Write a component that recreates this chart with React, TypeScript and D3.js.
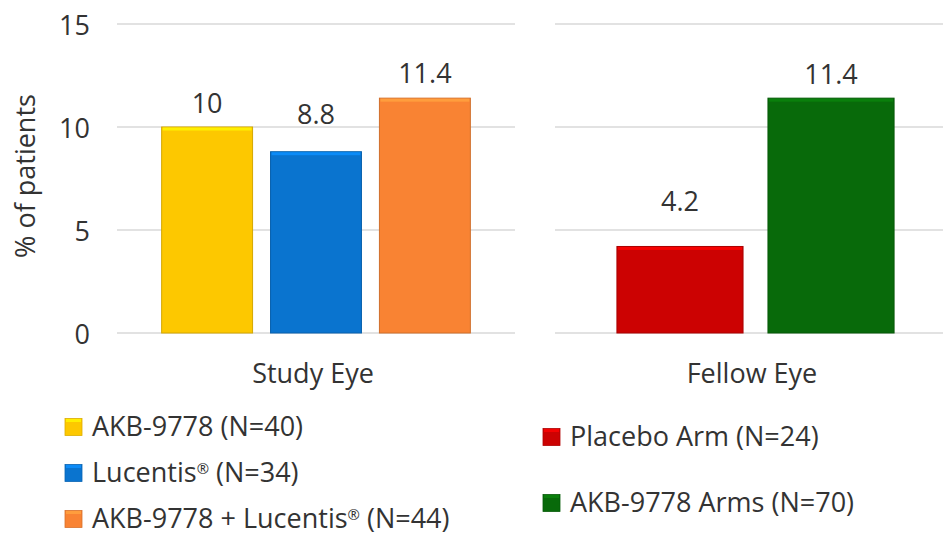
import React from "react";
import * as d3 from "d3";

// Study eye arms
const studyArms = ["AKB-9778 (N=40)", "Lucentis® (N=34)", "AKB-9778 + Lucentis® (N=44)"];
const studyValues = [10, 8.8, 11.4];
const studyColors = ["#FDC800", "#0A74CF", "#F98333"];

// Fellow eye arms
const fellowArms = ["Placebo Arm (N=24)", "AKB-9778 Arms (N=70)"];
const fellowValues = [4.2, 11.4];
const fellowColors = ["#CC0202", "#086A0A"];

const panelLabels = ["Study Eye", "Fellow Eye"];
const yTicks = [0, 5, 10, 15];
const yTitle = "% of patients";

// distance from bar top to value-label baseline
const studyLabelLift = [14, 28, 15];
const fellowLabelLift = [35, 14];

const W = 943;
const H = 537;
const FONT = "'Open Sans', 'Noto Sans', sans-serif";
const TEXT = "#333333";
const FS = 27;
const REG_RISE = 8;

const y = d3.scaleLinear().domain([0, 15]).range([333, 24]);

const studyX = d3
  .scaleBand<number>()
  .domain(d3.range(studyValues.length))
  .range([117, 515])
  .paddingInner(0.165)
  .paddingOuter(0.41);

const fellowX = d3
  .scaleBand<number>()
  .domain(d3.range(fellowValues.length))
  .range([555, 956])
  .paddingInner(0.165)
  .paddingOuter(0.41);

// renders "®" as a small raised mark, restoring the baseline afterwards
function labelWithReg(text: string) {
  const parts = text.split("®");
  const out: React.ReactNode[] = [];
  parts.forEach((p, i) => {
    out.push(
      <tspan key={"p" + i} dy={i > 0 ? REG_RISE : undefined}>
        {p}
      </tspan>
    );
    if (i < parts.length - 1)
      out.push(
        <tspan key={"r" + i} fontSize={FS * 0.55} dy={-REG_RISE}>
          ®
        </tspan>
      );
  });
  return out;
}

function Bars({
  values,
  colors,
  x,
  lifts,
}: {
  values: number[];
  colors: string[];
  x: d3.ScaleBand<number>;
  lifts: number[];
}) {
  return (
    <g>
      {values.map((v, i) => {
        const x0 = x(i)!;
        const bw = x.bandwidth();
        const top = y(v);
        const base = y(0);
        const c = d3.color(colors[i])!;
        return (
          <g key={i}>
            <rect
              x={x0}
              y={top}
              width={bw}
              height={base - top}
              fill={colors[i]}
              stroke={c.darker(0.5).toString()}
              strokeWidth={1}
            />
            <rect x={x0 + 1} y={top + 0.5} width={bw - 2} height={3} fill={c.brighter(0.5).toString()} />
            <text
              x={x0 + bw / 2}
              y={top - lifts[i]}
              textAnchor="middle"
              fontSize={FS}
              fill={TEXT}
              fontFamily={FONT}
            >
              {v}
            </text>
          </g>
        );
      })}
    </g>
  );
}

function Legend({
  names,
  colors,
  x0,
  rows,
}: {
  names: string[];
  colors: string[];
  x0: number;
  rows: number[];
}) {
  return (
    <g>
      {names.map((n, i) => {
        const c = d3.color(colors[i])!;
        return (
          <g key={n} transform={`translate(${x0},${rows[i]})`}>
            <rect x={0} y={-8.5} width={17} height={17} fill={colors[i]} stroke={c.darker(0.4).toString()} strokeWidth={0.8} />
            <rect x={1} y={-8} width={15} height={3} fill={c.brighter(0.5).toString()} />
            <text x={27} y={9} fontSize={FS} fill={TEXT} fontFamily={FONT}>
              {labelWithReg(n)}
            </text>
          </g>
        );
      })}
    </g>
  );
}

export default function App() {
  const grid = "#D9D9D9";
  return (
    <svg
      width={W}
      height={H}
      viewBox={`0 0 ${W} ${H}`}
      style={{ position: "absolute", left: 0, top: 0, background: "#fff" }}
    >
      <rect width={W} height={H} fill="#fff" />
      {/* gridlines and tick labels */}
      {yTicks.map((t) => (
        <g key={t}>
          <line x1={117} x2={515} y1={y(t)} y2={y(t)} stroke={grid} strokeWidth={1.5} />
          <line x1={555} x2={943} y1={y(t)} y2={y(t)} stroke={grid} strokeWidth={1.5} />
          <text
            x={90}
            y={y(t)}
            textAnchor="end"
            dominantBaseline="central"
            fontSize={FS}
            fill={TEXT}
            fontFamily={FONT}
          >
            {t}
          </text>
        </g>
      ))}
      <text
        transform={`translate(24,${(95 + 257) / 2}) rotate(-90)`}
        textAnchor="middle"
        dominantBaseline="central"
        fontSize={FS}
        fill={TEXT}
        fontFamily={FONT}
      >
        {yTitle}
      </text>

      <Bars values={studyValues} colors={studyColors} x={studyX} lifts={studyLabelLift} />
      <Bars values={fellowValues} colors={fellowColors} x={fellowX} lifts={fellowLabelLift} />

      <text x={313} y={383} textAnchor="middle" fontSize={FS} fill={TEXT} fontFamily={FONT}>
        {panelLabels[0]}
      </text>
      <text x={752} y={383} textAnchor="middle" fontSize={FS} fill={TEXT} fontFamily={FONT}>
        {panelLabels[1]}
      </text>

      <Legend names={studyArms} colors={studyColors} x0={65} rows={[427, 473, 519]} />
      <Legend names={fellowArms} colors={fellowColors} x0={543} rows={[437, 503]} />
    </svg>
  );
}
